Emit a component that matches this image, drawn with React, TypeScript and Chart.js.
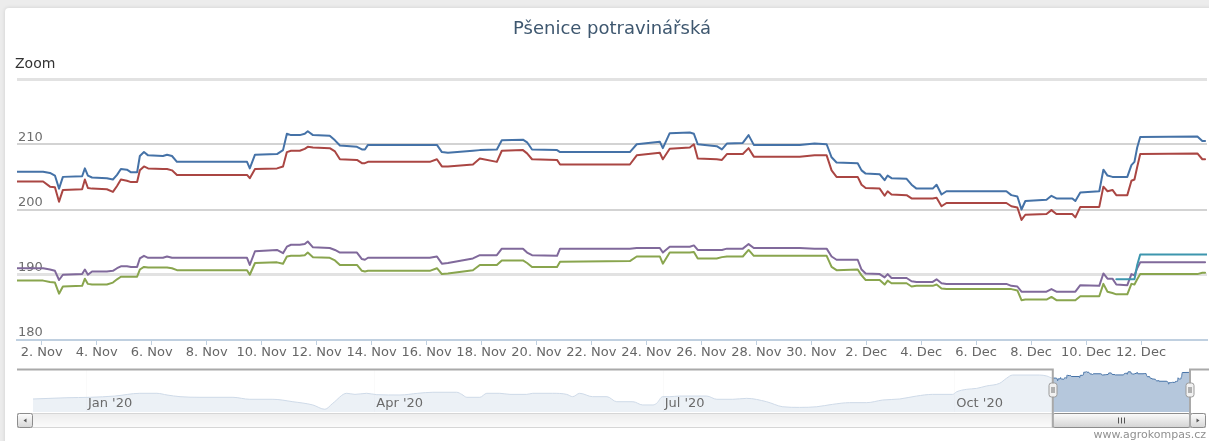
import React, { useEffect, useRef } from 'react';
import { Chart, registerables } from 'chart.js';

Chart.register(...registerables);

const FONT = "'DejaVu Sans', Verdana, sans-serif";
const TITLE = 'Pšenice potravinářská';

// time axis of the zoomed view, in days: 1 = 1. Nov 2020, 31 = 1. Dec 2020
const times = [1.10, 2.05, 2.30, 2.48, 2.63, 2.77, 3.47, 3.57, 3.68, 3.83, 4.37, 4.59, 4.74, 4.88, 5.10, 5.25, 5.47, 5.57, 5.72, 5.87, 6.41, 6.56, 6.74, 6.92, 9.47, 9.57, 9.76, 10.56, 10.78, 10.92, 11.07, 11.39, 11.57, 11.68, 11.87, 12.48, 12.67, 12.85, 13.47, 13.65, 13.76, 13.87, 16.12, 16.38, 16.56, 16.78, 17.69, 17.94, 18.56, 18.74, 19.51, 19.66, 19.84, 20.75, 20.86, 23.40, 23.65, 24.49, 24.60, 24.85, 25.58, 25.73, 25.87, 26.56, 26.75, 26.93, 27.51, 27.72, 27.91, 29.58, 30.12, 30.56, 30.74, 30.92, 31.69, 31.83, 31.98, 32.49, 32.67, 32.78, 32.92, 33.47, 33.65, 33.83, 34.42, 34.56, 34.74, 34.92, 37.10, 37.28, 37.50, 37.65, 37.79, 38.56, 38.74, 38.92, 39.50, 39.61, 39.79, 40.48, 40.63, 40.78, 40.96, 41.10, 41.50, 41.65, 41.76, 41.86, 41.97, 44.05, 44.23, 44.33];

const seriesBlue = [205.8, 205.8, 205.6, 205.2, 203.2, 205.0, 205.1, 206.3, 205.2, 204.9, 204.8, 204.6, 205.3, 206.2, 206.1, 205.7, 205.7, 208.2, 208.8, 208.3, 208.2, 208.4, 208.2, 207.3, 207.3, 206.3, 208.4, 208.5, 209.1, 211.6, 211.4, 211.4, 211.6, 212.0, 211.4, 211.3, 210.6, 209.8, 209.6, 209.2, 209.2, 209.9, 209.9, 209.9, 208.8, 208.7, 209.0, 209.1, 209.2, 210.6, 210.7, 210.3, 209.2, 209.1, 208.8, 208.8, 210.0, 210.4, 209.4, 211.7, 211.8, 211.6, 210.0, 209.7, 209.2, 210.1, 210.2, 211.4, 209.9, 209.9, 210.1, 210.0, 208.0, 207.2, 207.1, 206.0, 205.5, 205.4, 204.5, 205.2, 204.8, 204.7, 203.8, 203.2, 203.2, 203.8, 202.3, 202.8, 202.8, 202.2, 202.0, 200.0, 201.3, 201.5, 202.1, 201.7, 201.7, 201.3, 202.6, 202.8, 206.1, 205.2, 205.0, 205.0, 205.0, 206.8, 207.3, 209.5, 211.1, 211.2, 210.5, 210.5];

const seriesRed = [204.3, 204.3, 203.5, 203.4, 201.2, 203.0, 203.1, 204.6, 203.3, 203.2, 203.1, 202.7, 203.6, 204.6, 204.4, 204.2, 204.2, 206.0, 206.6, 206.3, 206.2, 206.2, 206.0, 205.3, 205.3, 204.8, 206.2, 206.3, 206.6, 208.8, 209.0, 209.0, 209.3, 209.6, 209.5, 209.4, 208.9, 207.7, 207.6, 207.1, 207.1, 207.3, 207.3, 207.7, 206.6, 206.6, 206.9, 207.8, 207.3, 209.0, 209.1, 208.6, 207.7, 207.6, 206.9, 206.9, 208.3, 208.7, 207.7, 209.3, 209.5, 210.0, 207.8, 207.7, 207.6, 208.5, 208.5, 209.4, 208.1, 208.1, 208.3, 208.3, 206.0, 205.0, 205.0, 203.8, 203.3, 203.2, 202.1, 202.8, 202.3, 202.2, 201.7, 201.7, 201.7, 201.8, 200.5, 201.0, 201.0, 200.5, 200.3, 198.4, 199.2, 199.3, 199.9, 199.3, 199.3, 198.8, 200.4, 200.4, 203.5, 202.8, 203.0, 202.2, 202.2, 204.4, 204.6, 206.5, 208.5, 208.6, 207.7, 207.7];

const seriesGreen = [189.1, 189.1, 188.9, 188.8, 187.1, 188.2, 188.3, 189.4, 188.6, 188.5, 188.5, 188.8, 189.3, 189.7, 189.7, 189.7, 189.7, 190.8, 191.2, 191.1, 191.1, 191.1, 191.0, 190.7, 190.7, 190.0, 191.8, 191.9, 191.7, 192.8, 192.9, 192.9, 193.0, 193.4, 192.7, 192.6, 192.2, 191.5, 191.5, 190.6, 190.5, 190.6, 190.6, 191.0, 190.1, 190.2, 190.7, 191.5, 191.5, 192.2, 192.2, 191.8, 191.2, 191.2, 192.0, 192.1, 192.8, 192.8, 191.7, 193.4, 193.4, 193.5, 192.5, 192.5, 192.7, 192.8, 192.8, 193.8, 192.9, 192.9, 192.9, 192.9, 191.2, 190.7, 190.8, 189.9, 189.2, 189.2, 188.5, 189.1, 188.7, 188.7, 188.2, 188.3, 188.3, 188.5, 187.9, 187.8, 187.8, 187.8, 187.6, 186.1, 186.2, 186.2, 186.6, 186.1, 186.1, 186.1, 186.7, 186.7, 188.6, 187.4, 187.2, 187.0, 187.0, 188.6, 188.5, 189.3, 190.1, 190.1, 190.3, 190.3];

const seriesPurple = [191.0, 191.0, 190.8, 190.6, 189.2, 190.0, 190.1, 190.8, 190.0, 190.5, 190.5, 190.6, 191.0, 191.3, 191.3, 191.2, 191.2, 192.5, 192.9, 192.6, 192.6, 192.8, 192.6, 192.6, 192.6, 191.5, 193.6, 193.8, 193.3, 194.3, 194.6, 194.6, 194.7, 195.1, 194.2, 194.1, 193.8, 193.4, 193.4, 192.4, 192.3, 192.6, 192.6, 192.8, 191.7, 191.8, 192.5, 193.0, 193.0, 194.0, 194.0, 193.4, 193.0, 192.9, 194.0, 194.0, 194.1, 194.1, 193.4, 194.3, 194.3, 194.5, 193.8, 193.8, 193.8, 194.0, 194.0, 194.7, 194.1, 194.1, 194.0, 194.0, 192.8, 192.3, 192.3, 190.8, 190.2, 190.1, 189.6, 190.1, 189.5, 189.5, 189.0, 188.9, 188.9, 189.3, 188.7, 188.6, 188.6, 188.3, 188.2, 187.4, 187.4, 187.4, 187.8, 187.4, 187.4, 187.4, 188.4, 188.3, 190.2, 189.4, 189.4, 188.5, 188.4, 190.1, 189.9, 191.0, 191.9, 191.9, 191.9, 191.9];

const cyanTimes = [41.10, 41.50, 41.65, 41.76, 41.86, 41.97, 44.05, 44.23, 44.40];
const seriesCyan = [189.3, 189.3, 189.3, 189.3, 191.5, 193.1, 193.1, 193.1, 193.1];

const xTicks = [2, 4, 6, 8, 10, 12, 14, 16, 18, 20, 22, 24, 26, 28, 30, 32, 34, 36, 38, 40, 42];
const yTicks = [180, 190, 200, 210, 220];
const MAIN_MIN = 1.1;
const MAIN_MAX = 44.4;

// navigator (whole year), days since 1 Jan 2020
const navDays = [-16.7, -6.0, 1.3, 9.1, 17.0, 22.4, 25.6, 29.7, 36.0, 46.4, 51.7, 59.0, 65.3, 71.6, 75.4, 77.9, 82.3, 84.9, 88.6, 91.8, 99.1, 104.7, 109.5, 117.0, 118.6, 120.2, 124.3, 126.5, 130.6, 133.8, 139.1, 141.0, 147.3, 151.7, 153.6, 155.8, 159.9, 164.4, 167.5, 172.6, 175.7, 178.9, 180.1, 182.0, 184.2, 187.4, 195.9, 199.1, 204.1, 208.5, 214.8, 219.9, 225.2, 230.6, 235.6, 241.0, 246.4, 251.4, 256.8, 262.1, 267.2, 273.5, 274.8, 277.9, 281.1, 284.2, 288.3, 290.5, 292.4, 300.9, 303.2];
const navValues = [185.9, 187.1, 187.5, 188.7, 191.3, 191.3, 189.7, 188.1, 187.5, 187.5, 185.6, 185.6, 183.3, 180.2, 176.1, 181.8, 191.3, 190.3, 191.3, 190.0, 189.7, 191.3, 192.3, 192.3, 190.3, 187.5, 187.5, 191.3, 191.3, 190.3, 190.3, 191.3, 191.3, 190.3, 188.1, 191.3, 188.1, 188.1, 183.3, 183.3, 180.2, 180.2, 181.8, 188.1, 188.1, 188.7, 188.7, 185.6, 185.6, 186.5, 183.3, 178.5, 177.9, 178.5, 180.8, 182.4, 182.4, 184.9, 185.9, 188.7, 190.3, 190.3, 192.8, 195.1, 196.0, 198.3, 200.8, 205.6, 208.7, 208.7, 207.8];
const NAV_OFFSET = 304; // day 1 of the zoomed view = 1 Nov = day 305
const NAV_MIN = -16.7;
const NAV_MAX = NAV_OFFSET + MAIN_MAX;
const navMonthDays = [0, 91, 182, 274];
const navMonthLabels = ["Jan '20", "Apr '20", "Jul '20", "Oct '20"];

function toXY(t: number[], v: number[]) {
  return t.map((x, i) => ({ x, y: v[i] }));
}

function dayLabel(d: number) {
  return d <= 30 ? `${d}. Nov` : `${d - 30}. Dec`;
}

function rr(ctx: CanvasRenderingContext2D, x: number, y: number, w: number, h: number, r: number) {
  ctx.beginPath();
  ctx.moveTo(x + r, y);
  ctx.arcTo(x + w, y, x + w, y + h, r);
  ctx.arcTo(x + w, y + h, x, y + h, r);
  ctx.arcTo(x, y + h, x, y, r);
  ctx.arcTo(x, y, x + w, y, r);
  ctx.closePath();
}

const navDecor = {
  id: 'navDecor',
  beforeDatasetsDraw(chart: any) {
    const { ctx, chartArea: a } = chart;
    const xs = chart.scales.x;
    ctx.save();
    ctx.strokeStyle = '#ebebeb';
    ctx.lineWidth = 1;
    navMonthDays.forEach((d) => {
      const px = Math.round(xs.getPixelForValue(d)) + 0.5;
      ctx.beginPath();
      ctx.moveTo(px, a.top);
      ctx.lineTo(px, a.bottom);
      ctx.stroke();
    });
    ctx.restore();
  },
  afterDatasetsDraw(chart: any) {
    const { ctx, chartArea: a, width } = chart;
    const xs = chart.scales.x;
    const x0 = xs.getPixelForValue(NAV_OFFSET + MAIN_MIN);
    const x1 = xs.getPixelForValue(NAV_OFFSET + MAIN_MAX);
    ctx.save();
    // mask outside selection
    ctx.fillStyle = 'rgba(255,255,255,0.74)';
    ctx.fillRect(a.left, a.top - 1, x0 - a.left, a.bottom - a.top + 1);
    ctx.fillRect(x1, a.top - 1, a.right - x1, a.bottom - a.top + 1);
    // month labels
    ctx.fillStyle = '#6a6a6a';
    ctx.font = `13px ${FONT}`;
    ctx.textBaseline = 'middle';
    ctx.textAlign = 'left';
    navMonthDays.forEach((d, i) => {
      ctx.fillText(navMonthLabels[i], xs.getPixelForValue(d) + 2, 44);
    });
    // scrollbar track
    const sy = 53.5;
    const sh = 14;
    const left = a.left - 16;
    const right = a.right + 16;
    let g = ctx.createLinearGradient(0, sy, 0, sy + sh);
    g.addColorStop(0, '#ededed');
    g.addColorStop(1, '#fbfbfb');
    ctx.fillStyle = g;
    ctx.fillRect(left, sy, right - left, sh);
    ctx.strokeStyle = '#d6d6d6';
    ctx.lineWidth = 1;
    ctx.strokeRect(left + 0.5, sy, right - left - 1, sh);
    // thumb
    g = ctx.createLinearGradient(0, sy, 0, sy + sh);
    g.addColorStop(0, '#fafafa');
    g.addColorStop(1, '#d4d4d4');
    ctx.fillStyle = g;
    rr(ctx, x0, sy, x1 - x0, sh, 2);
    ctx.fill();
    ctx.strokeStyle = '#8c8c8c';
    ctx.stroke();
    const cx = Math.round((x0 + x1) / 2) + 0.5;
    ctx.strokeStyle = '#555';
    [-3, 0, 3].forEach((o) => {
      ctx.beginPath();
      ctx.moveTo(cx + o, sy + 4);
      ctx.lineTo(cx + o, sy + sh - 4);
      ctx.stroke();
    });
    // buttons
    const btn = (bx: number, dir: number) => {
      const gg = ctx.createLinearGradient(0, sy, 0, sy + sh);
      gg.addColorStop(0, '#fdfdfd');
      gg.addColorStop(1, '#d6d6d6');
      ctx.fillStyle = gg;
      rr(ctx, bx + 0.5, sy, 15, sh, 2);
      ctx.fill();
      ctx.strokeStyle = '#8c8c8c';
      ctx.stroke();
      const mx = bx + 8;
      const my = sy + sh / 2;
      ctx.fillStyle = '#555';
      ctx.beginPath();
      ctx.moveTo(mx - 1.5 * dir, my);
      ctx.lineTo(mx + 1.5 * dir, my - 2);
      ctx.lineTo(mx + 1.5 * dir, my + 2);
      ctx.closePath();
      ctx.fill();
    };
    btn(left, 1);
    btn(a.right, -1);
    // outline
    ctx.strokeStyle = '#a9a9a9';
    ctx.lineWidth = 2;
    ctx.beginPath();
    ctx.moveTo(left, 9.5);
    ctx.lineTo(x0, 9.5);
    ctx.lineTo(x0, sy + sh);
    ctx.moveTo(x1, sy + sh);
    ctx.lineTo(x1, 9.5);
    ctx.lineTo(width, 9.5);
    ctx.stroke();
    // handles
    [x0, x1].forEach((hx) => {
      const px = Math.round(hx);
      ctx.fillStyle = '#f1f1f1';
      ctx.strokeStyle = '#9a9a9a';
      ctx.lineWidth = 1;
      rr(ctx, px - 4, 23, 8, 14, 2.5);
      ctx.fill();
      ctx.stroke();
      ctx.strokeStyle = '#707070';
      [-1, 1].forEach((o) => {
        ctx.beginPath();
        ctx.moveTo(px + o + 0.5 - 0.5, 27);
        ctx.lineTo(px + o + 0.5 - 0.5, 33);
        ctx.stroke();
      });
    });
    ctx.restore();
  },
};

export default function App() {
  const mainRef = useRef<HTMLCanvasElement>(null);
  const navRef = useRef<HTMLCanvasElement>(null);

  useEffect(() => {
    const lineDs = (label: string, color: string, t: number[], v: number[]) => ({
      label,
      data: toXY(t, v),
      borderColor: color,
      backgroundColor: color,
      borderWidth: 2,
      pointRadius: 0,
      tension: 0,
      fill: false,
      borderJoinStyle: 'round' as const,
      borderCapStyle: 'round' as const,
    });

    const gridColor = (v: number) => {
      if (v === 180) return 'rgba(0,0,0,0)';
      if (v === 190 || v === 220) return '#e2e2e2';
      return '#d3d3d3';
    };
    const gridWidth = (v: number) => (v === 190 || v === 220 ? 3 : 2);

    const main = new Chart(mainRef.current as HTMLCanvasElement, {
      type: 'line',
      data: {
        datasets: [
          lineDs('Cyan', '#3D96AE', cyanTimes, seriesCyan),
          lineDs('Purple', '#80699B', times, seriesPurple),
          lineDs('Green', '#89A54E', times, seriesGreen),
          lineDs('Red', '#AA4643', times, seriesRed),
          lineDs('Blue', '#4572A7', times, seriesBlue),
        ],
      },
      options: {
        responsive: false,
        animation: false,
        events: [],
        layout: { padding: { left: 17, right: 2, top: 0, bottom: 81 } },
        plugins: {
          legend: { display: false },
          tooltip: { enabled: false },
          title: {
            display: true,
            text: TITLE,
            color: '#3E576F',
            font: { family: FONT, size: 18, weight: 'normal' },
            padding: { top: 19, bottom: 38.4 },
          },
        },
        scales: {
          x: {
            type: 'linear',
            min: MAIN_MIN,
            max: MAIN_MAX,
            afterBuildTicks: (axis: any) => {
              axis.ticks = xTicks.map((value) => ({ value }));
            },
            afterFit: (scale: any) => {
              scale.height = 20;
              scale.paddingLeft = 0;
              scale.paddingRight = 0;
            },
            grid: {
              display: true,
              drawOnChartArea: false,
              drawTicks: true,
              tickLength: 5,
              color: '#C0D0E0',
              lineWidth: 1,
            },
            border: { display: true, color: '#C0D0E0', width: 2 },
            ticks: {
              autoSkip: false,
              maxRotation: 0,
              minRotation: 0,
              padding: 0,
              color: '#666666',
              font: { family: FONT, size: 13 },
              callback: (v: any) => dayLabel(Number(v)),
            },
          },
          y: {
            type: 'linear',
            min: 180,
            max: 220,
            afterBuildTicks: (axis: any) => {
              axis.ticks = yTicks.map((value) => ({ value }));
            },
            afterFit: (scale: any) => {
              scale.width = 0;
              scale.paddingTop = 0;
              scale.paddingBottom = 0;
            },
            grid: {
              drawTicks: false,
              color: (c: any) => gridColor(c.tick ? c.tick.value : 0),
              lineWidth: (c: any) => gridWidth(c.tick ? c.tick.value : 0),
            },
            border: { display: false },
            ticks: {
              mirror: true,
              padding: 1,
              labelOffset: -7,
              color: '#6e6e6e',
              font: { family: FONT, size: 13 },
              callback: (v: any) => (Number(v) === 220 ? '' : String(v)),
            },
          },
        },
      },
    } as any);

    const navData = [
      ...toXY(navDays, navValues),
      ...toXY(times.map((t) => t + NAV_OFFSET), seriesBlue),
    ];

    const nav = new Chart(navRef.current as HTMLCanvasElement, {
      type: 'line',
      data: {
        datasets: [
          {
            label: 'Navigator',
            data: navData,
            borderColor: '#4572A7',
            backgroundColor: 'rgba(69,114,167,0.4)',
            borderWidth: 1,
            pointRadius: 0,
            fill: 'start',
            cubicInterpolationMode: 'monotone',
          },
        ],
      },
      options: {
        responsive: false,
        animation: false,
        events: [],
        layout: { padding: { left: 33, right: 19, top: 10, bottom: 29 } },
        plugins: {
          legend: { display: false },
          tooltip: { enabled: false },
          title: { display: false },
        },
        scales: {
          x: { type: 'linear', min: NAV_MIN, max: NAV_MAX, display: false },
          y: { type: 'linear', min: 173.5, max: 213.5, display: false },
        },
      },
      plugins: [navDecor],
    } as any);

    return () => {
      main.destroy();
      nav.destroy();
    };
  }, []);

  return (
    <div
      style={{
        position: 'absolute',
        left: 0,
        top: 0,
        width: 1209,
        height: 441,
        overflow: 'hidden',
        background: '#ececec',
        fontFamily: FONT,
      }}
    >
      <div
        style={{
          position: 'absolute',
          left: 5,
          top: 8,
          width: 1220,
          height: 450,
          background: '#ffffff',
          borderRadius: 4,
          boxShadow: '0 0 4px rgba(0,0,0,0.12)',
        }}
      />
      <canvas
        ref={mainRef}
        width={1209}
        height={441}
        style={{ position: 'absolute', left: 0, top: 0, width: 1209, height: 441 }}
      />
      <canvas
        ref={navRef}
        width={1209}
        height={81}
        style={{ position: 'absolute', left: 0, top: 360, width: 1209, height: 81 }}
      />
      <div
        style={{
          position: 'absolute',
          left: 15,
          top: 55,
          fontSize: 14,
          lineHeight: '16px',
          color: '#333333',
        }}
      >
        Zoom
      </div>
      <div
        style={{
          position: 'absolute',
          right: 3,
          top: 428,
          fontSize: 11,
          lineHeight: '13px',
          color: '#909090',
          whiteSpace: 'nowrap',
        }}
      >
        www.agrokompas.cz
      </div>
    </div>
  );
}
